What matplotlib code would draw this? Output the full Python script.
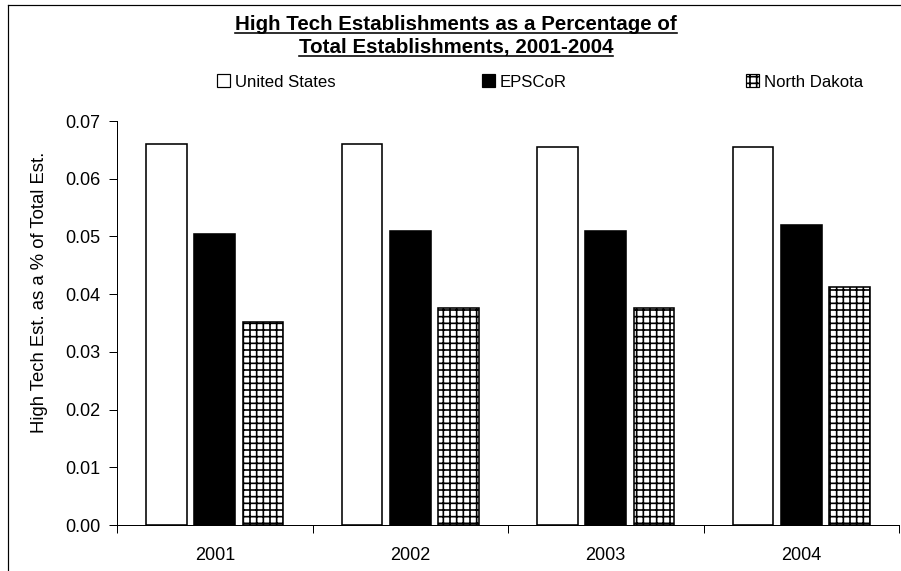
import matplotlib
matplotlib.use("Agg")
import matplotlib.pyplot as plt
from matplotlib.patches import Patch
from matplotlib.lines import Line2D
import numpy as np

years = ["2001", "2002", "2003", "2004"]
series_names = ["United States", "EPSCoR", "North Dakota"]
us_values = [0.0660, 0.0660, 0.0655, 0.0655]
epscor_values = [0.0504, 0.0510, 0.0510, 0.0520]
nd_values = [0.0352, 0.0376, 0.0376, 0.0412]
y_ticks = [0.00, 0.01, 0.02, 0.03, 0.04, 0.05, 0.06, 0.07]
title_lines = ["High Tech Establishments as a Percentage of",
               "Total Establishments, 2001-2004"]
y_label = "High Tech Est. as a % of Total Est."

W, H, DPI = 901, 571, 80
plt.rcParams["font.family"] = ["Liberation Sans", "DejaVu Sans"]
plt.rcParams["hatch.linewidth"] = 1.5
plt.rcParams["hatch.color"] = "black"


def pt(px):
    return px * 72.0 / DPI


def fx(x):
    return x / W


def fy(y):
    return 1 - y / H


fig = plt.figure(figsize=(W / DPI, H / DPI), dpi=DPI)
ax = fig.add_axes([fx(117), fy(525), fx(899) - fx(117), fy(121) - fy(525)])

styles = [
    dict(facecolor="white", edgecolor="black", hatch=None),
    dict(facecolor="black", edgecolor="black", hatch=None),
    dict(facecolor="white", edgecolor="black", hatch="++"),
]
x = np.arange(len(years))
offsets = [-0.247, 0.0, 0.247]
width = 0.208
for vals, off, st in zip([us_values, epscor_values, nd_values], offsets, styles):
    ax.bar(x + off, vals, width=width, linewidth=pt(1.6), **st)

ax.set_xlim(-0.5, len(years) - 0.5)
ax.set_ylim(0, 0.07)
ax.set_yticks(y_ticks)
ax.set_yticklabels([f"{v:.2f}" for v in y_ticks])
ax.set_xticks(np.arange(len(years) + 1) - 0.5)
ax.set_xticklabels([])
ax.set_xticks(x, minor=True)
ax.set_xticklabels(years, minor=True)
ax.tick_params(axis="y", direction="out", length=pt(8), width=pt(1),
               pad=pt(9), labelsize=pt(18))
ax.tick_params(axis="x", which="major", direction="out", length=pt(8), width=pt(1))
ax.tick_params(axis="x", which="minor", length=0, pad=pt(22), labelsize=pt(18))
for side in ["top", "right"]:
    ax.spines[side].set_visible(False)
for side in ["left", "bottom"]:
    ax.spines[side].set_linewidth(pt(1))
    ax.spines[side].set_color("black")

fig.text(fx(40), fy(292), y_label, rotation=90, ha="center", va="center",
         fontsize=pt(18.5))

# Title with underlines
title_texts = []
for line, yc in zip(title_lines, [24, 47]):
    t = fig.text(fx(456), fy(yc), line, ha="center", va="center",
                 fontsize=pt(20.5), fontweight="bold")
    title_texts.append(t)
fig.canvas.draw()
renderer = fig.canvas.get_renderer()
for t in title_texts:
    bb = t.get_window_extent(renderer)
    yline = bb.y0 + 1
    fig.add_artist(Line2D([bb.x0 / W, bb.x1 / W], [yline / H, yline / H],
                          transform=fig.transFigure, color="black", lw=pt(1.6)))

# Legend entries spread across the top
legend_x = [217, 482, 746]
for name, st, lx in zip(series_names, styles, legend_x):
    h = Patch(facecolor=st["facecolor"], edgecolor="black", hatch=st["hatch"],
              linewidth=pt(1.2))
    fig.legend([h], [name], loc="center left",
               bbox_to_anchor=(fx(lx), fy(82)), frameon=False,
               fontsize=pt(16.8), handlelength=0.8, handleheight=0.8,
               handletextpad=0.25, borderpad=0, borderaxespad=0)

# Outer frame (top and left edges)
fig.add_artist(Line2D([fx(8), 1.0], [fy(5), fy(5)], transform=fig.transFigure,
                      color="black", lw=pt(1.2)))
fig.add_artist(Line2D([fx(8), fx(8)], [fy(5), 0.0], transform=fig.transFigure,
                      color="black", lw=pt(1.2)))

fig.savefig("out.png", dpi=DPI)
